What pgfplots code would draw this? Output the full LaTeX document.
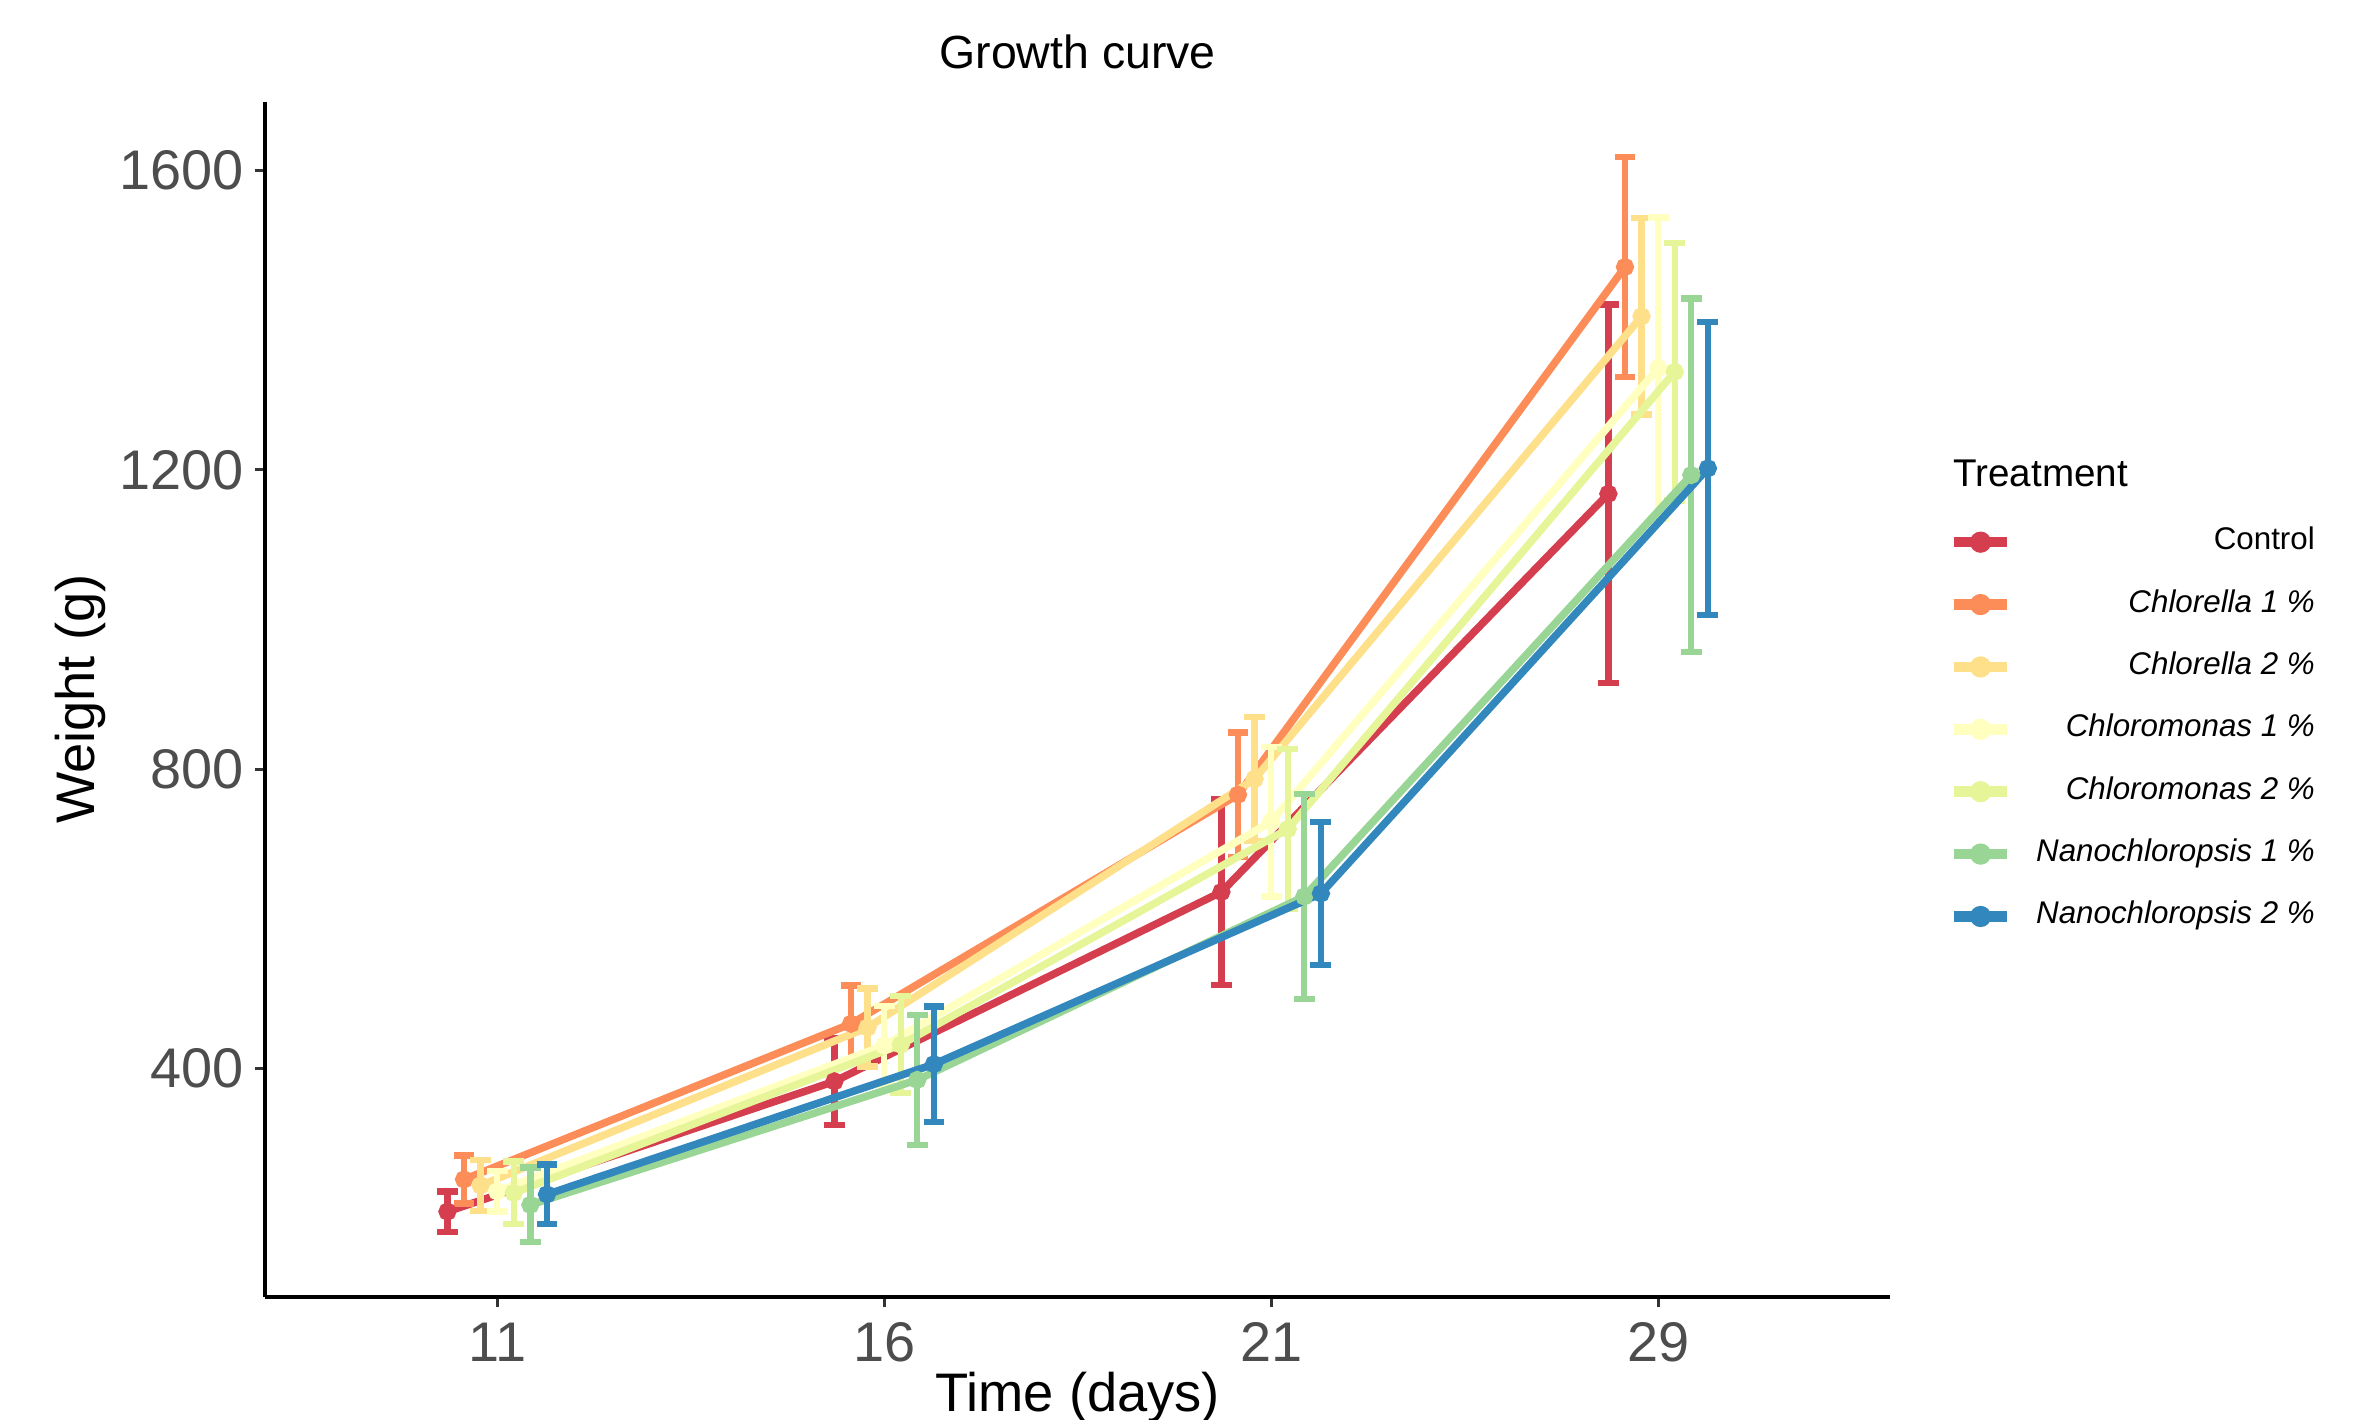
\documentclass[border=0pt]{standalone}
\usepackage{pgfplots}
\pgfplotsset{compat=1.18}
\usepackage{fontspec}
\setmainfont{Liberation Sans}

\definecolor{cCtrl}{HTML}{D53E4F}
\definecolor{cChlA}{HTML}{FC8D59}
\definecolor{cChlB}{HTML}{FEE08B}
\definecolor{cChmA}{HTML}{FFFFBF}
\definecolor{cChmB}{HTML}{E6F598}
\definecolor{cNanA}{HTML}{99D594}
\definecolor{cNanB}{HTML}{3288BD}
\definecolor{tickgray}{HTML}{4D4D4D}

\pgfplotsset{
  series/.style={color=#1, solid, line width=1.45pt, mark=*, mark size=1pt,
    mark options={solid, fill=#1},
    error bars/.cd, y dir=both, y explicit,
    error bar style={line width=1.2pt, color=#1},
    error mark options={rotate=90, mark size=2pt, line width=1.2pt, color=#1}},
}

\begin{document}
\begin{tikzpicture}
\path[use as bounding box] (-1.784cm,-0.823cm) rectangle (14.216cm,8.73cm);
\begin{axis}[
    at={(0,0)}, anchor=south west,
    scale only axis,
    width=10.94cm, height=8.046cm,
    xmin=0.4, xmax=4.6,
    ymin=95, ymax=1692,
    xtick={1,2,3,4},
    xticklabels={11,16,21,29},
    ytick={400,800,1200,1600},
    /pgf/number format/1000 sep={},
    /pgf/number format/assume math mode=true,
    axis lines*=left,
    axis line style={black, line width=0.7pt},
    tick align=outside,
    major tick length=0.07cm,
    tick style={color=black!80, line width=0.6pt},
    ticklabel style={font=\fontsize{10.7}{12}\selectfont, color=tickgray},
    yticklabel style={xshift=0.05cm},
    xticklabel style={yshift=0.02cm},
    title={Growth curve},
    title style={at={(axis description cs:0.5,1.0012)}, anchor=base, font=\fontsize{8.9}{10}\selectfont},
    xlabel={Time (days)},
    xlabel style={at={(axis description cs:0.5,-0.0956)}, anchor=base, font=\fontsize{10.4}{12}\selectfont},
    ylabel={Weight (g)},
    ylabel style={at={(axis description cs:-0.1133,0.5)}, anchor=center, font=\fontsize{10.4}{12}\selectfont},
    clip=false,
    legend style={at={(axis description cs:1.0354,0.6538)}, anchor=north west, draw=none, fill=none,
      font=\fontsize{6}{7}\selectfont, row sep=2.1pt, inner sep=0pt,
      /tikz/every odd column/.append style={column sep=0.09cm}},
    legend cell align=right,
    legend image code/.code={\draw[#1, line width=2pt] (0cm,0cm) -- (0.357cm,0cm);
      \fill[#1] (0.178cm,0cm) circle (1.3pt);},
  ]
  \addplot+[series=cCtrl] coordinates {
    (0.8714,209) +- (0,27) (1.8714,383) +- (0,58) (2.8714,636) +- (0,124) (3.8714,1168) +- (0,253)};
  \addplot+[series=cChlA] coordinates {
    (0.9143,252) +- (0,32) (1.9143,460) +- (0,51) (2.9143,766) +- (0,83) (3.9143,1471) +- (0,147)};
  \addplot+[series=cChlB] coordinates {
    (0.9571,244) +- (0,34) (1.9571,455) +- (0,52) (2.9571,787) +- (0,83) (3.9571,1405) +- (0,131)};
  \addplot+[series=cChmA] coordinates {
    (1.0000,236) +- (0,27) (2.0000,431) +- (0,53) (3.0000,730) +- (0,100) (4.0000,1336) +- (0,201)};
  \addplot+[series=cChmB] coordinates {
    (1.0429,234) +- (0,42) (2.0429,432) +- (0,65) (3.0429,720) +- (0,107) (4.0429,1331) +- (0,172)};
  \addplot+[series=cNanA] coordinates {
    (1.0857,218) +- (0,50) (2.0857,385) +- (0,87) (3.0857,630) +- (0,137) (4.0857,1193) +- (0,236)};
  \addplot+[series=cNanB] coordinates {
    (1.1286,232) +- (0,40) (2.1286,406) +- (0,77) (3.1286,634) +- (0,96) (4.1286,1202) +- (0,196)};
  \legend{Control, \textit{Chlorella 1 \%}, \textit{Chlorella 2 \%}, \textit{Chloromonas 1 \%},
    \textit{Chloromonas 2 \%}, \textit{Nanochloropsis 1 \%}, \textit{Nanochloropsis 2 \%}}
  \node[anchor=base west, inner sep=0pt, font=\fontsize{7.4}{9}\selectfont] at (axis description cs:1.0382,0.678) {Treatment};
\end{axis}
\end{tikzpicture}
\end{document}
